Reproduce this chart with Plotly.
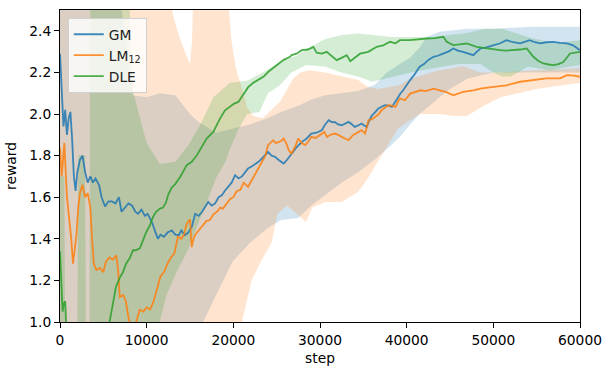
import plotly.graph_objects as go

# ---------------- data: mean curves ----------------
gm_steps = [0, 200, 400, 600, 800, 1000, 1200, 1400, 1600, 1800, 2000, 2300, 2600, 2900, 3200, 3500, 3800, 4100,
            4500, 4800, 5200, 5600, 6000, 6400, 6800, 7100, 7500, 7900, 8300, 8700, 9000, 9400, 9800, 10100,
            10400, 10700, 11000, 11300, 11600, 12000, 12400, 12900, 13300, 13700, 14000, 14400, 14800, 15200,
            15600, 16000, 16400, 16800, 17100, 17500, 17900, 18300, 18700, 19000, 19400, 19800, 20200, 20600,
            21000, 21400, 21700, 22200, 22900, 23400, 24000, 24400, 24800, 25200, 25800, 26200, 26700, 27300,
            27900, 28400, 29000, 29600, 30200, 30600, 31000, 31400, 31700, 32100, 32500, 32900, 33300, 33700,
            34000, 34400, 34800, 35100, 35400, 35700, 36000, 36400, 36700, 37100, 37500, 37900, 38300, 38700,
            39000, 39300, 39600, 40000, 40400, 40900, 41500, 42000, 42500, 43100, 43600, 44200, 44800, 45400,
            45900, 46500, 47100, 47700, 48100, 48500, 49200, 50000, 50800, 51500, 52300, 53100, 53700, 54200,
            54800, 55400, 56100, 56900, 57700, 58500, 59200, 59600, 60000]
gm_mean = [2.29, 2.10, 1.94, 2.02, 1.90, 1.98, 2.01, 1.88, 1.70, 1.63, 1.72, 1.78, 1.80, 1.72, 1.67, 1.70, 1.67, 1.69,
           1.66, 1.60, 1.555, 1.58, 1.58, 1.57, 1.60, 1.53, 1.55, 1.57, 1.56, 1.53, 1.52, 1.54, 1.51, 1.52,
           1.497, 1.47, 1.433, 1.40, 1.42, 1.41, 1.43, 1.44, 1.42, 1.417, 1.44, 1.417, 1.43, 1.457,
           1.52, 1.51, 1.53, 1.56, 1.577, 1.56, 1.57, 1.60, 1.61, 1.63, 1.65, 1.67, 1.706, 1.69,
           1.70, 1.72, 1.738, 1.75, 1.77, 1.79, 1.818, 1.80, 1.794, 1.78, 1.762, 1.78, 1.81, 1.84,
           1.866, 1.88, 1.906, 1.91, 1.922, 1.95, 1.97, 1.96, 1.962, 1.95, 1.946, 1.955, 1.962, 1.95,
           1.938, 1.945, 1.954, 1.945, 1.938, 1.97, 1.994, 2.01, 2.026, 2.035, 2.042, 2.04, 2.034, 2.06,
           2.082, 2.10, 2.114, 2.14, 2.163, 2.19, 2.227, 2.24, 2.26, 2.275, 2.28, 2.29, 2.30, 2.315,
           2.305, 2.299, 2.29, 2.283, 2.30, 2.315, 2.32, 2.331, 2.34, 2.355, 2.345, 2.34, 2.35, 2.355,
           2.345, 2.34, 2.345, 2.347, 2.342, 2.34, 2.33, 2.32, 2.307]

lm_steps = [0, 200, 500, 800, 1100, 1300, 1500, 1700, 1900, 2100, 2300, 2600, 2900, 3200, 3500, 3700, 3900, 4200,
            4600, 5000, 5300, 5700, 6100, 6500, 6700, 6900, 7300, 7600, 7900, 8200, 8500, 8800, 9200, 9600,
            10000, 10400, 10800, 11200, 11600, 12000, 12400, 12800, 13200, 13600, 14000, 14300, 14600, 15000,
            15200, 15400, 15600, 16000, 16400, 16900, 17300, 17700, 18100, 18500, 18800, 19200, 19600, 20000,
            20400, 20800, 21200, 21700, 22100, 22500, 22900, 23300, 23700, 24000, 24300, 24600, 24900, 25200,
            25500, 25800, 26100, 26400, 26700, 27100, 27500, 27900, 28300, 28700, 29000, 29500, 30000, 30500,
            30800, 31200, 31700, 32100, 32500, 32900, 33300, 33800, 34300, 34800, 35200, 35600, 36000, 36400,
            36800, 37100, 37500, 37900, 38300, 38700, 39200, 39800, 40400, 41000, 41600, 42200, 43100, 43800,
            44500, 45400, 46000, 46500, 47700, 48500, 50000, 51500, 53100, 54600, 56100, 57700, 58500, 59300,
            60000]
lm_mean = [1.84, 1.70, 1.86, 1.60, 1.48, 1.40, 1.28, 1.36, 1.42, 1.55, 1.62, 1.66, 1.60, 1.62, 1.55, 1.40, 1.28, 1.25,
           1.26, 1.24, 1.29, 1.31, 1.30, 1.32, 1.25, 1.12, 1.13, 1.10, 1.02, 0.98, 0.97, 1.00, 1.06, 1.05,
           1.07, 1.06, 1.10, 1.16, 1.22, 1.24, 1.28, 1.31, 1.33, 1.41, 1.40, 1.42, 1.47, 1.494,
           1.36, 1.40, 1.42, 1.44, 1.46, 1.486, 1.49, 1.518, 1.53, 1.55, 1.545, 1.566, 1.59, 1.60,
           1.63, 1.635, 1.67, 1.65, 1.68, 1.706, 1.74, 1.77, 1.80, 1.85, 1.86, 1.874, 1.86, 1.866,
           1.87, 1.882, 1.86, 1.826, 1.81, 1.84, 1.882, 1.86, 1.85, 1.87, 1.89, 1.885, 1.898, 1.914,
           1.89, 1.90, 1.906, 1.90, 1.89, 1.88, 1.874, 1.898, 1.91, 1.922, 1.906, 1.97, 1.975, 1.986,
           2.0, 2.018, 2.03, 2.042, 2.04, 2.034, 2.075, 2.066, 2.098, 2.105, 2.114, 2.11, 2.122, 2.114,
           2.106, 2.09, 2.1, 2.106, 2.114, 2.122, 2.13, 2.138, 2.155, 2.163, 2.171, 2.171, 2.187, 2.185,
           2.179]

dle_steps = [0, 150, 300, 450, 600, 700, 900, 2000, 4000, 5500, 5730, 6120, 6460, 6920, 7270, 7620, 8080, 8420,
             8770, 9230, 9580, 9920, 10380, 10730, 11080, 11540, 11880, 12230, 12500, 12890, 13270, 13900,
             14620, 15200, 15770, 16300, 16920, 17690, 18460, 19040, 19610, 20100, 20580, 21200, 21730, 22300,
             22880, 23500, 24040, 24810, 25380, 25770, 26540, 26730, 27300, 27890, 28600, 29230, 29620, 30200,
             30770, 31300, 31920, 32500, 33080, 33500, 34000, 34620, 35570, 36540, 37300, 38080, 38700, 39230,
             40380, 41300, 42310, 43300, 44230, 44620, 45380, 46100, 46920, 48080, 49230, 50000, 50770, 51500,
             52310, 53100, 53850, 54620, 55200, 55770, 56400, 56920, 57500, 58080, 58850, 59400, 60000]
dle_mean = [1.34, 1.20, 1.05, 1.09, 1.10, 1.00, 0.95, 0.90, 0.90, 0.95, 1.00, 1.10, 1.17, 1.215, 1.24, 1.28, 1.31, 1.345,
            1.345, 1.355, 1.39, 1.43, 1.465, 1.505, 1.53, 1.545, 1.55, 1.575, 1.614, 1.646, 1.662, 1.70,
            1.754, 1.77, 1.80, 1.84, 1.882, 1.914, 1.978, 2.018, 2.034, 2.05, 2.058, 2.10, 2.13, 2.15,
            2.163, 2.18, 2.203, 2.227, 2.243, 2.259, 2.275, 2.283, 2.29, 2.307, 2.31, 2.323, 2.295, 2.29,
            2.299, 2.28, 2.259, 2.27, 2.283, 2.254, 2.27, 2.29, 2.299, 2.323, 2.33, 2.347, 2.34, 2.355,
            2.355, 2.36, 2.363, 2.365, 2.371, 2.347, 2.331, 2.335, 2.339, 2.323, 2.315, 2.31, 2.307, 2.305,
            2.307, 2.31, 2.315, 2.275, 2.255, 2.243, 2.238, 2.235, 2.24, 2.25, 2.291, 2.295, 2.299]

# ---------------- data: shaded bands (upper / lower envelopes) ----------------
gm_band_steps = [0, 3000, 5500, 6500, 7300, 8400, 10000, 11500, 13300, 15000, 16000, 16500, 18000, 19900, 21900,
                 23900, 25500, 27500, 29000, 30600, 32500, 34400, 36300, 37700, 39200, 40400, 41500, 42300, 43800,
                 45000, 47000, 50000, 54600, 57000, 60000]
gm_upper = [2.8, 2.8, 2.8, 2.7, 2.45, 2.09, 2.08, 2.10, 2.09, 2.0, 1.96, 1.95, 1.91, 1.93, 1.95,
            1.98, 2.01, 2.04, 2.07, 2.09, 2.10, 2.11, 2.14, 2.2, 2.24, 2.27, 2.32, 2.37, 2.395,
            2.40, 2.41, 2.41, 2.42, 2.42, 2.42]
gm_lower = [0.5, 0.5, 0.5, 0.5, 0.5, 0.5, 0.5, 0.5, 0.5, 0.5, 0.8, 1.0, 1.13, 1.29, 1.38,
            1.45, 1.49, 1.50, 1.56, 1.61, 1.67, 1.72, 1.78, 1.83, 1.89, 1.95, 2.0, 2.03, 2.08,
            2.12, 2.17, 2.2, 2.2, 2.2, 2.2]

lm_upper_steps = [0, 12100, 12500, 12900, 13400, 13850, 14400, 15000, 15230, 15350, 15600, 19000, 19400, 19800,
                  20300, 20800, 21600, 22300, 23400, 25400, 26900, 27700, 28800, 30600, 32500, 34400, 35500,
                  36700, 39200, 40400, 43800, 46500, 48500, 50800, 54600, 60000]
lm_upper = [2.9, 2.9, 2.7, 2.5, 2.42, 2.36, 2.3, 2.24, 2.35, 2.6, 2.9, 2.9, 2.55, 2.35,
            2.22, 2.15, 2.03, 1.99, 1.98, 2.06, 2.17, 2.2, 2.21, 2.2, 2.18, 2.163, 2.13,
            2.12, 2.14, 2.17, 2.21, 2.23, 2.2, 2.2, 2.21, 2.22]
lm_lower_steps = [0, 20900, 21000, 22100, 23300, 24400, 25100, 26200, 27300, 28400, 29100, 30600, 32500, 34400,
                  35500, 36700, 37800, 39000, 41500, 43800, 45500, 47000, 48500, 50800, 55000, 60000]
lm_lower = [0.5, 0.5, 1.0, 1.2, 1.3, 1.38, 1.52, 1.56, 1.52, 1.48, 1.55, 1.577, 1.577, 1.625,
            1.69, 1.77, 1.85, 1.93, 2.0, 2.0, 1.99, 1.99, 2.03, 2.08, 2.12, 2.15]

dle_upper_steps = [0, 500, 600, 2000, 2100, 2900, 3000, 3400, 3500, 7900, 8100, 8400, 10000, 11500, 13300, 14800,
                   16200, 17700, 19600, 21600, 23400, 25400, 27300, 28800, 30600, 32500, 34400, 36300, 38300,
                   43000, 47000, 49000, 51000, 54000, 57000, 60000]
dle_upper = [1.7, 1.7, 0.9, 0.9, 1.8, 1.8, 0.9, 0.9, 2.9, 2.9, 2.4, 2.11, 1.86, 1.76, 1.77, 1.85,
             1.95, 2.08, 2.15, 2.16, 2.2, 2.25, 2.28, 2.32, 2.36, 2.38, 2.387, 2.38, 2.37,
             2.37, 2.39, 2.41, 2.41, 2.37, 2.34, 2.355]
dle_lower_steps = [0, 11000, 11500, 12300, 13500, 14700, 16150, 17300, 18100, 19100, 19600, 20500, 21600, 23000,
                   24000, 25400, 26700, 28400, 30600, 32500, 34400, 36000, 37500, 40500, 43000, 46000, 48500,
                   50000, 51000, 52000, 54000, 56500, 58700, 60000]
dle_lower = [0.5, 0.5, 1.0, 1.13, 1.245, 1.34, 1.50, 1.614, 1.70, 1.77, 1.83, 1.92, 2.0, 2.01,
             2.1, 2.14, 2.2, 2.235, 2.227, 2.2, 2.18, 2.155, 2.17, 2.2, 2.22, 2.24, 2.24,
             2.2, 2.18, 2.18, 2.227, 2.21, 2.227, 2.235]

x_ticks = [0, 10000, 20000, 30000, 40000, 50000, 60000]
y_ticks = [1.0, 1.2, 1.4, 1.6, 1.8, 2.0, 2.2, 2.4]

series = [
    ("GM", gm_steps, gm_mean, gm_band_steps, gm_upper, gm_band_steps, gm_lower, (31, 119, 180)),
    ("LM<sub>12</sub>", lm_steps, lm_mean, lm_upper_steps, lm_upper, lm_lower_steps, lm_lower, (255, 127, 14)),
    ("DLE", dle_steps, dle_mean, dle_upper_steps, dle_upper, dle_lower_steps, dle_lower, (44, 160, 44)),
]

fig = go.Figure()

# bands first
for name, xs, ys, us, uv, ls, lv, c in series:
    fig.add_trace(go.Scatter(
        x=list(us) + list(ls)[::-1],
        y=list(uv) + list(lv)[::-1],
        fill="toself",
        fillcolor=f"rgba({c[0]},{c[1]},{c[2]},0.2)",
        line=dict(width=0),
        mode="lines",
        hoverinfo="skip",
        showlegend=False,
    ))

# mean lines
for i, (name, xs, ys, us, uv, ls, lv, c) in enumerate(series):
    fig.add_trace(go.Scatter(
        x=xs, y=ys, mode="lines", name=name,
        line=dict(color=f"rgb({c[0]},{c[1]},{c[2]})", width=1.8),
        opacity=0.85,
        legendgroup=f"g{i}",
    ))

font_family = "DejaVu Sans"
fig.update_layout(
    width=603, height=368,
    margin=dict(l=60, r=23, t=10, b=46),
    paper_bgcolor="white", plot_bgcolor="white",
    font=dict(family=font_family, size=13.8, color="black"),
    showlegend=True,
    legend=dict(
        x=0.015, y=0.975, xanchor="left", yanchor="top",
        bgcolor="rgba(255,255,255,0.8)", bordercolor="#d0d0d0", borderwidth=1,
        font=dict(family=font_family, size=13.8, color="#222"),
        tracegroupgap=0,
        itemwidth=30,
    ),
    xaxis=dict(
        range=[0, 60000], tickvals=x_ticks, ticktext=[str(v) for v in x_ticks],
        showgrid=False, zeroline=False, automargin=False,
        showline=True, mirror=True, linecolor="black", linewidth=1,
        ticks="outside", ticklen=5, tickwidth=1, tickcolor="black",
        title=dict(text="step", standoff=6, font=dict(size=13.8)),
    ),
    yaxis=dict(
        range=[1.0, 2.5], tickvals=y_ticks, ticktext=[f"{v:.1f}" for v in y_ticks],
        showgrid=False, zeroline=False, automargin=False,
        showline=True, mirror=True, linecolor="black", linewidth=1,
        ticks="outside", ticklen=5, tickwidth=1, tickcolor="black",
        title=dict(text="reward", standoff=9, font=dict(size=13.8)),
    ),
)

fig.write_html("out.html")
